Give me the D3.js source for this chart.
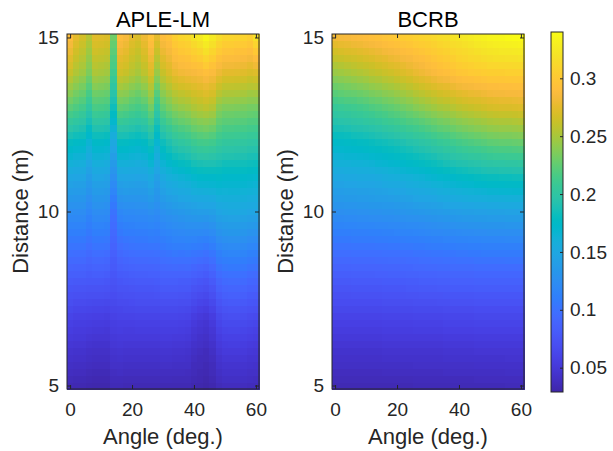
<!DOCTYPE html>
<html lang="en">
<head>
<meta charset="UTF-8">
<title>APLE-LM vs BCRB</title>
<style>
    body { margin: 0; background: #fff; }
    svg text { font-family: "Liberation Sans", Arial, Helvetica, sans-serif; fill: #262626; }
    .axis line { stroke: #262626; stroke-width: 1; }
    .axis text { font-size: 19px; }
    .box { fill: none; stroke: #262626; stroke-width: 1; }
    .label { font-size: 22px; text-anchor: middle; }
    .title { font-size: 22px; text-anchor: middle; fill: #000; }
</style>
</head>
<body>
<script src="https://d3js.org/d3.v7.min.js"></script>
<script>
var width = 613, height = 451;

// grid of the two maps
var angles = [0, 2, 4, 6, 8, 10, 12, 14, 16, 18, 20, 22, 24, 26, 28, 30, 32, 34, 36, 38, 40, 42, 44, 46, 48, 50, 52, 54, 56, 58, 60];
var distances = [5, 5.2, 5.4, 5.6, 5.8, 6, 6.2, 6.4, 6.6, 6.8, 7, 7.2, 7.4, 7.6, 7.8, 8, 8.2, 8.4, 8.6, 8.8,
    9, 9.2, 9.4, 9.6, 9.8, 10, 10.2, 10.4, 10.6, 10.8, 11, 11.2, 11.4, 11.6, 11.8, 12, 12.2, 12.4, 12.6, 12.8,
    13, 13.2, 13.4, 13.6, 13.8, 14, 14.2, 14.4, 14.6, 14.8, 15];

var xTicks = [0, 20, 40, 60];
var yTicks = [5, 10, 15];
var cbTicks = [0.05, 0.1, 0.15, 0.2, 0.25, 0.3];
var cRange = [0.029, 0.340];
var titles = ["APLE-LM", "BCRB"];

// error maps, values x 1000, one row per distance (first row = 5 m), one column per angle
var apleLM = [
    [34,33,33,32,31,31,31,35,35,34,34,34,34,34,34,34,34,34,34,34,32,31,30,32,36,38,38,38,38,37,37],
    [36,35,35,34,33,33,33,37,37,36,36,36,36,36,36,37,37,36,36,36,34,33,31,34,39,41,41,41,41,40,39],
    [39,38,38,36,35,35,35,39,40,39,39,39,39,39,39,39,39,39,39,38,36,34,33,36,41,44,44,44,44,42,42],
    [41,40,40,39,38,38,38,42,42,41,41,41,41,41,41,42,42,41,41,41,37,36,34,37,44,46,46,46,46,45,44],
    [44,43,43,41,40,40,40,44,45,44,44,44,44,44,44,45,45,44,44,43,39,37,36,39,46,49,49,49,49,47,47],
    [46,45,45,43,42,42,42,46,47,46,46,46,46,46,46,47,47,46,46,45,41,39,37,41,49,52,52,52,52,50,49],
    [49,48,48,46,45,45,45,49,50,49,49,49,49,49,49,50,50,49,49,48,44,42,40,44,52,55,56,56,55,53,52],
    [52,51,51,49,48,48,48,51,52,52,52,52,52,52,52,53,53,52,52,51,47,44,42,47,55,59,59,59,59,57,56],
    [55,53,53,52,51,51,50,54,55,54,54,55,55,55,55,56,56,56,55,54,49,47,45,49,59,62,63,63,62,60,59],
    [58,56,56,55,54,54,53,56,57,57,57,58,58,58,58,59,59,59,58,57,52,49,47,52,62,66,66,66,66,64,63],
    [61,59,59,58,57,57,56,59,60,60,60,61,61,61,61,62,62,62,61,60,55,52,50,55,65,69,70,70,69,67,66],
    [65,63,63,62,61,61,60,62,63,64,64,65,65,65,65,66,66,66,65,64,60,57,55,60,70,74,75,75,74,72,71],
    [69,67,67,66,65,65,64,65,67,67,68,69,69,69,69,70,70,70,69,69,65,62,60,65,75,79,80,80,79,77,76],
    [72,71,71,70,70,70,69,68,70,71,71,72,72,72,73,75,75,75,74,73,69,67,65,70,80,84,85,85,84,81,80],
    [76,75,75,74,74,74,73,71,74,74,75,76,76,76,77,79,79,79,78,78,74,72,70,75,85,89,90,90,89,86,85],
    [80,79,79,78,78,78,77,74,77,78,79,80,80,80,81,83,83,83,82,82,79,77,75,80,90,94,95,95,94,91,90],
    [84,84,84,82,83,83,82,77,81,82,83,84,84,85,85,88,88,88,88,88,85,83,81,86,96,99,100,100,99,96,95],
    [89,88,88,86,88,88,87,80,85,87,88,89,89,89,90,92,93,94,93,94,91,89,87,92,101,105,106,106,105,102,101],
    [93,93,93,90,92,92,91,82,89,91,92,93,93,94,94,97,98,99,99,99,97,96,94,98,107,110,111,111,110,107,106],
    [98,97,97,94,97,97,96,85,93,96,97,98,98,98,99,101,103,105,104,105,103,102,100,104,112,116,117,117,116,113,112],
    [102,102,102,98,102,102,101,88,97,100,101,102,102,103,103,106,108,110,110,111,109,108,106,110,118,121,122,122,121,118,117],
    [106,106,106,102,106,106,105,91,101,104,105,106,106,108,107,110,113,115,115,116,115,114,113,116,124,127,128,128,127,124,123],
    [111,111,111,106,111,111,110,93,106,109,109,110,110,112,111,115,117,119,120,121,121,121,120,123,130,133,134,134,133,130,129],
    [115,115,115,110,115,115,114,96,110,113,114,115,115,117,115,119,122,124,125,127,127,127,126,129,136,138,139,139,138,136,135],
    [120,120,120,114,120,120,119,98,115,118,118,119,119,121,119,124,126,128,130,132,133,134,133,136,142,144,145,145,144,142,141],
    [124,124,124,118,124,124,123,101,119,122,122,123,123,126,123,128,131,133,135,137,139,140,140,142,148,150,151,151,150,148,147],
    [129,129,129,122,129,129,127,106,125,127,127,128,128,131,127,133,136,139,141,143,145,146,147,148,153,154,155,155,154,153,152],
    [134,133,133,126,133,133,132,111,130,132,132,132,133,137,131,138,142,144,147,149,151,153,153,154,158,159,159,159,159,157,156],
    [139,138,138,131,138,138,136,117,136,138,137,137,137,142,134,143,147,150,152,154,158,159,160,161,164,163,164,164,163,162,161],
    [144,142,142,135,142,142,141,122,141,143,142,141,142,148,138,148,153,155,158,160,164,166,166,167,169,168,168,168,168,166,165],
    [149,147,147,139,147,147,145,127,147,148,147,146,147,153,142,153,158,161,164,166,170,172,173,173,174,172,172,172,172,171,170],
    [155,153,153,144,153,153,151,132,153,154,153,152,153,159,147,159,164,168,171,174,178,180,181,181,180,178,178,178,178,177,176],
    [161,159,158,149,158,158,156,137,160,160,159,157,159,166,152,165,171,175,179,181,186,188,189,189,187,184,184,184,184,183,182],
    [167,164,164,155,164,164,162,141,166,166,164,163,165,172,157,171,177,183,186,189,194,197,198,196,193,191,191,190,190,188,187],
    [173,170,169,160,169,169,167,146,173,172,170,168,171,179,162,177,184,190,194,196,202,205,206,204,200,197,197,196,196,194,193],
    [179,176,175,165,175,175,173,151,179,178,176,174,177,185,167,183,190,197,201,204,210,213,214,212,206,203,203,202,202,200,199],
    [188,184,183,172,183,183,181,157,188,187,184,182,185,194,175,191,199,206,210,213,218,221,223,220,213,210,210,209,208,206,206],
    [197,193,190,179,191,191,189,164,197,196,193,190,194,203,182,200,207,214,218,221,227,230,232,229,220,216,216,215,215,213,212],
    [205,201,198,187,200,199,197,170,207,205,201,199,202,213,190,208,216,223,227,230,235,238,240,237,226,223,223,222,221,219,219],
    [214,210,205,194,208,207,205,177,216,214,210,207,211,222,197,217,224,231,235,238,244,247,249,246,233,229,229,228,228,226,225],
    [223,218,213,201,216,215,213,183,225,223,218,215,219,231,205,225,233,240,244,247,252,255,258,254,240,236,236,235,234,232,232],
    [231,225,220,208,223,222,220,189,233,231,225,222,227,239,213,232,240,248,252,254,259,262,265,261,248,244,244,243,242,240,240],
    [239,232,227,215,230,229,227,195,241,239,233,229,235,247,221,240,248,255,259,262,266,268,272,268,256,252,252,251,250,247,248],
    [246,239,233,221,238,236,234,200,249,246,240,236,242,254,229,247,255,263,267,269,272,275,278,274,264,259,259,258,257,255,256],
    [254,246,240,228,245,243,241,206,257,254,248,243,250,262,237,255,263,270,274,277,279,281,285,281,272,267,267,266,265,262,264],
    [262,253,247,235,252,250,248,212,265,262,255,250,258,270,245,262,270,278,282,284,286,288,292,288,280,275,275,274,273,270,272],
    [268,257,251,239,256,254,252,216,270,267,259,254,262,275,251,268,275,283,288,290,293,295,301,295,287,282,282,281,280,277,281],
    [273,262,255,243,260,259,257,219,275,271,263,258,267,280,257,273,280,289,293,295,300,303,309,303,294,289,289,288,287,284,290],
    [279,266,259,247,265,263,261,223,280,276,267,262,271,285,263,279,285,294,299,301,306,310,318,310,301,296,296,294,294,291,300],
    [284,271,263,251,269,268,266,226,285,280,271,266,276,290,269,284,290,300,304,306,313,318,326,318,308,303,303,301,301,298,309],
    [290,275,267,255,273,272,270,230,290,285,275,270,280,295,275,290,295,305,310,312,320,325,335,325,315,310,310,308,308,305,318]
];

var bcrb = [
    [34,34,34,34,34,34,34,34,34,34,34,34,34,35,35,35,35,35,35,35,35,35,35,35,35,35,35,35,36,36,36],
    [36,36,36,36,36,36,36,36,36,36,36,36,36,37,37,37,37,37,37,37,37,37,37,38,38,38,38,38,38,38,38],
    [38,38,38,38,38,38,38,38,39,39,39,39,39,39,39,39,39,39,40,40,40,40,40,40,40,40,40,40,41,41,41],
    [41,41,41,41,41,41,41,41,41,41,41,41,41,42,42,42,42,42,42,42,42,42,42,43,43,43,43,43,43,43,43],
    [43,43,43,43,43,43,43,43,44,44,44,44,44,44,44,44,44,44,45,45,45,45,45,45,45,45,45,45,46,46,46],
    [45,45,45,45,45,45,45,45,46,46,46,46,46,46,46,46,46,46,47,47,47,47,47,48,48,48,48,48,48,48,48],
    [48,48,48,48,48,48,48,48,49,49,49,49,49,49,49,49,49,49,50,50,50,50,50,51,51,51,51,51,51,51,51],
    [51,51,51,51,51,51,51,51,52,52,52,52,52,52,52,52,52,52,53,53,53,53,53,54,54,54,54,54,54,54,54],
    [54,54,54,54,54,54,54,54,55,55,55,55,55,56,56,56,56,56,57,57,57,57,57,58,58,58,58,58,58,58,58],
    [57,57,57,57,57,57,57,57,58,58,58,58,58,59,59,59,59,59,60,60,60,60,60,61,61,61,61,61,61,61,61],
    [60,60,60,60,60,60,60,60,61,61,61,61,61,62,62,62,62,62,63,63,63,63,63,64,64,64,64,64,64,64,64],
    [64,64,64,64,64,64,64,64,65,65,65,65,65,66,66,66,66,66,67,67,67,67,67,68,68,68,68,68,68,68,68],
    [68,68,68,68,68,68,68,68,69,69,69,69,69,70,70,70,70,71,71,72,72,72,72,73,73,73,73,73,73,73,73],
    [71,71,71,72,72,72,72,72,73,73,73,73,74,74,75,75,75,75,76,76,76,76,76,77,77,77,77,77,77,77,77],
    [75,75,75,76,76,76,76,76,77,77,77,77,78,78,79,79,79,80,80,81,81,81,81,82,82,82,82,82,82,82,82],
    [79,79,79,80,80,80,80,80,81,81,81,81,82,82,83,83,83,84,84,85,85,85,85,86,86,86,86,86,86,86,86],
    [83,83,83,84,84,84,84,85,85,86,86,86,87,87,88,88,88,89,89,90,90,90,90,91,91,91,91,91,91,91,91],
    [88,88,88,89,89,89,89,89,90,90,90,91,91,92,92,93,93,94,94,95,95,95,95,96,96,96,96,96,96,96,96],
    [92,92,92,93,93,93,93,94,94,95,95,95,96,96,97,97,98,98,99,99,100,100,100,101,101,101,101,101,102,102,102],
    [97,97,97,98,98,98,98,98,99,99,99,100,100,101,101,102,103,103,104,104,105,105,106,106,107,107,107,107,107,107,107],
    [101,101,101,102,102,102,102,103,103,104,104,105,105,106,106,107,108,108,109,109,110,110,111,111,112,112,112,112,112,112,112],
    [106,106,106,107,107,107,107,108,108,109,109,110,111,111,112,113,114,114,115,115,116,116,117,117,118,118,118,118,119,119,119],
    [111,111,111,112,112,112,113,113,114,114,115,116,116,117,118,119,120,120,121,121,122,123,123,124,124,125,125,125,125,125,125],
    [116,116,117,117,118,118,118,119,119,120,120,121,122,122,123,124,125,126,127,128,129,129,130,130,131,131,131,131,132,132,132],
    [121,121,122,122,123,123,124,124,125,125,126,127,128,128,129,130,131,132,133,134,135,136,136,137,137,138,138,138,139,139,139],
    [126,126,127,127,128,128,129,129,130,130,131,132,133,134,135,136,137,138,139,140,141,142,142,143,143,144,144,144,145,145,145],
    [131,131,132,132,133,133,134,134,135,135,136,137,138,140,141,142,143,144,146,147,148,149,149,150,150,151,151,152,152,153,153],
    [136,136,137,137,138,138,139,140,140,141,142,143,144,146,147,148,149,151,152,154,155,156,157,157,158,159,159,159,160,160,160],
    [140,140,141,141,142,142,143,144,145,146,147,148,150,151,153,154,155,157,158,160,161,162,163,164,165,166,166,167,167,168,168],
    [145,145,146,146,147,147,148,149,151,152,153,154,156,157,159,160,162,163,165,166,168,169,170,172,173,174,174,174,175,175,175],
    [150,150,151,151,152,152,153,154,156,157,158,160,161,163,164,166,168,170,171,173,175,176,177,179,180,181,181,182,182,183,183],
    [155,155,156,156,157,157,158,160,161,163,164,166,168,169,171,173,175,177,179,181,183,184,186,187,189,190,190,191,191,192,192],
    [160,161,161,162,162,163,164,166,167,169,170,172,174,176,178,180,182,184,187,189,191,192,194,195,197,198,199,199,200,200,201],
    [164,165,166,166,167,168,170,171,173,174,176,178,180,182,184,186,188,191,193,196,198,200,202,203,205,207,208,208,209,209,210],
    [169,170,171,172,173,174,176,177,179,180,182,184,186,189,191,193,196,198,201,203,206,208,210,211,213,215,216,217,217,218,219],
    [174,175,176,177,178,179,181,183,184,186,188,190,193,195,198,200,203,206,208,211,214,216,218,220,222,224,225,226,226,227,228],
    [180,181,182,184,185,186,188,190,192,194,196,199,201,204,206,209,212,215,217,220,223,225,227,229,231,233,234,235,235,236,237],
    [187,188,189,191,192,193,195,197,200,202,204,207,210,212,215,218,221,224,226,229,232,234,236,238,240,242,243,244,244,245,246],
    [193,195,196,198,199,201,203,205,208,210,212,215,218,220,223,226,229,232,234,237,240,242,244,246,248,250,251,252,252,253,254],
    [200,202,203,205,206,208,210,213,215,218,220,223,226,229,232,235,238,241,243,246,249,251,253,255,257,259,260,261,261,262,263],
    [206,208,210,211,213,215,218,220,223,225,228,231,234,238,241,244,247,250,252,255,258,260,262,264,266,268,269,270,270,271,272],
    [214,216,218,219,221,223,226,228,231,233,236,239,242,246,249,252,255,258,260,263,266,268,270,271,273,275,276,277,277,278,279],
    [222,224,226,227,229,231,234,236,239,241,244,247,250,254,257,260,263,266,268,271,274,276,278,279,281,283,284,284,285,285,286],
    [229,231,233,235,237,239,242,244,247,249,252,255,258,262,265,268,271,274,276,279,282,284,285,287,288,290,290,291,291,292,292],
    [237,239,241,243,245,247,250,252,255,257,260,263,266,270,273,276,279,282,284,287,290,292,293,295,296,298,298,298,299,299,299],
    [245,247,249,251,253,255,258,260,263,265,268,271,274,278,281,284,287,290,292,295,298,299,301,302,304,305,305,305,306,306,306],
    [252,254,256,258,260,262,264,267,269,272,274,277,280,283,286,289,292,295,297,300,303,305,306,308,309,311,311,312,312,313,313],
    [260,262,264,265,267,269,271,274,276,279,281,284,286,289,291,294,297,300,302,305,308,310,312,313,315,317,318,318,319,319,320],
    [267,269,271,272,274,276,278,280,283,285,287,290,292,295,297,300,302,305,307,310,312,314,316,318,320,322,323,324,324,325,326],
    [275,277,278,280,281,283,285,287,290,292,294,296,298,301,303,305,307,310,312,315,317,319,321,324,326,328,329,330,331,332,333],
    [282,284,285,287,288,290,292,294,296,298,300,302,304,306,308,310,312,315,317,320,322,324,327,329,332,334,335,336,338,339,340]
];

// parula colormap (64 entries)
var parula = ["#3e26a8","#402ab4","#422ec0","#4332cb","#4537d5","#463cde","#4741e5","#4747eb",
    "#484df0","#4852f4","#4758f8","#465efb","#4563fd","#4269fe","#3e6fff","#3875fe",
    "#327cfc","#2f81fa","#2e87f7","#2d8cf3","#2b91ef","#2796eb","#259be8","#23a0e5",
    "#20a5e3","#1ca9df","#18addb","#12b1d6","#08b5d0","#01b8ca","#02bac3","#0bbdbd",
    "#19bfb6","#24c1ae","#2cc4a7","#31c69f","#37c897","#3fca8e","#4acb84","#57cc7a",
    "#64cd6f","#72cd64","#81cc59","#8fcb4e","#9dc943","#abc739","#b9c431","#c5c22a",
    "#d1bf27","#dcbd29","#e6bb2d","#f0ba36","#f8ba3d","#febe3c","#fec338","#fec934",
    "#fccf30","#fad62d","#f7dc2a","#f5e327","#f5e924","#f6ef20","#f7f51b","#f9fb15"];

var color = d3.scaleLinear()
    .domain(parula.map(function (c, i) { return cRange[0] + i * (cRange[1] - cRange[0]) / (parula.length - 1); }))
    .range(parula)
    .clamp(true);

var svg = d3.select('body').append('svg').attr('width', width).attr('height', height);

var plotTop = 34, plotBottom = 389;
var panels = [
    { left: 67, right: 259, data: apleLM, title: titles[0] },
    { left: 332, right: 524, data: bcrb, title: titles[1] }
];

var halfA = (angles[1] - angles[0]) / 2;
var halfD = (distances[1] - distances[0]) / 2;

var yScale = d3.scaleLinear()
    .domain([distances[0] - halfD, distances[distances.length - 1] + halfD])
    .range([plotBottom, plotTop]);

panels.forEach(function (p) {
    var xScale = d3.scaleLinear()
        .domain([angles[0] - halfA, angles[angles.length - 1] + halfA])
        .range([p.left, p.right]);

    var cells = [];
    p.data.forEach(function (row, r) {
        row.forEach(function (v, c) {
            cells.push({ a: angles[c], d: distances[r], v: v / 1000 });
        });
    });

    var g = svg.append('g');
    g.selectAll('rect.cell')
        .data(cells)
        .enter()
        .append('rect')
        .attr('class', 'cell')
        .attr('x', function (d) { return xScale(d.a - halfA); })
        .attr('y', function (d) { return yScale(d.d + halfD); })
        .attr('width', function (d) { return xScale(d.a + halfA) - xScale(d.a - halfA) + 0.5; })
        .attr('height', function (d) { return yScale(d.d - halfD) - yScale(d.d + halfD) + 0.5; })
        .attr('fill', function (d) { return color(d.v); })
        .attr('shape-rendering', 'crispEdges');

    // inward ticks on all four sides
    var bottom = g.append('g').attr('class', 'axis')
        .attr('transform', 'translate(0,' + plotBottom + ')')
        .call(d3.axisBottom(xScale).tickValues(xTicks).tickSizeInner(-4).tickSizeOuter(0).tickPadding(14));
    var top = g.append('g').attr('class', 'axis')
        .attr('transform', 'translate(0,' + plotTop + ')')
        .call(d3.axisTop(xScale).tickValues(xTicks).tickSizeInner(-4).tickSizeOuter(0).tickFormat(''));
    var left = g.append('g').attr('class', 'axis')
        .attr('transform', 'translate(' + p.left + ',0)')
        .call(d3.axisLeft(yScale).tickValues(yTicks).tickSizeInner(-4).tickSizeOuter(0).tickPadding(8));
    var right = g.append('g').attr('class', 'axis')
        .attr('transform', 'translate(' + p.right + ',0)')
        .call(d3.axisRight(yScale).tickValues(yTicks).tickSizeInner(-4).tickSizeOuter(0).tickFormat(''));
    [bottom, top, left, right].forEach(function (ax) {
        ax.select('.domain').remove();
        ax.selectAll('text').attr('fill', '#262626').attr('font-family', null);
    });

    g.append('rect').attr('class', 'box')
        .attr('x', p.left).attr('y', plotTop)
        .attr('width', p.right - p.left).attr('height', plotBottom - plotTop);

    var cx = (p.left + p.right) / 2;
    g.append('text').attr('class', 'title').attr('x', cx).attr('y', 27).text(p.title);
    g.append('text').attr('class', 'label').attr('x', cx).attr('y', 444).text('Angle (deg.)');
    g.append('text').attr('class', 'label')
        .attr('transform', 'translate(' + (p.left - 39) + ',' + ((plotTop + plotBottom) / 2) + ') rotate(-90)')
        .text('Distance (m)');
});

// colorbar
var cb = { left: 551, right: 563, top: 32, bottom: 392 };
var cScale = d3.scaleLinear().domain(cRange).range([cb.bottom, cb.top]);
var grad = svg.append('defs').append('linearGradient')
    .attr('id', 'cbGrad').attr('x1', 0).attr('y1', 1).attr('x2', 0).attr('y2', 0);
grad.selectAll('stop')
    .data(parula)
    .enter()
    .append('stop')
    .attr('offset', function (d, i) { return i / (parula.length - 1); })
    .attr('stop-color', function (d) { return d; });
svg.append('rect')
    .attr('x', cb.left).attr('y', cb.top)
    .attr('width', cb.right - cb.left).attr('height', cb.bottom - cb.top)
    .attr('fill', 'url(#cbGrad)');
var cbAxis = svg.append('g').attr('class', 'axis')
    .attr('transform', 'translate(' + cb.right + ',0)')
    .call(d3.axisRight(cScale).tickValues(cbTicks).tickSizeInner(-3).tickSizeOuter(0).tickPadding(7)
        .tickFormat(function (d) { return String(+d.toFixed(2)); }));
cbAxis.select('.domain').remove();
cbAxis.selectAll('text').attr('fill', '#262626').attr('font-family', null);
svg.append('rect').attr('class', 'box')
    .attr('x', cb.left).attr('y', cb.top)
    .attr('width', cb.right - cb.left).attr('height', cb.bottom - cb.top);
</script>
</body>
</html>
